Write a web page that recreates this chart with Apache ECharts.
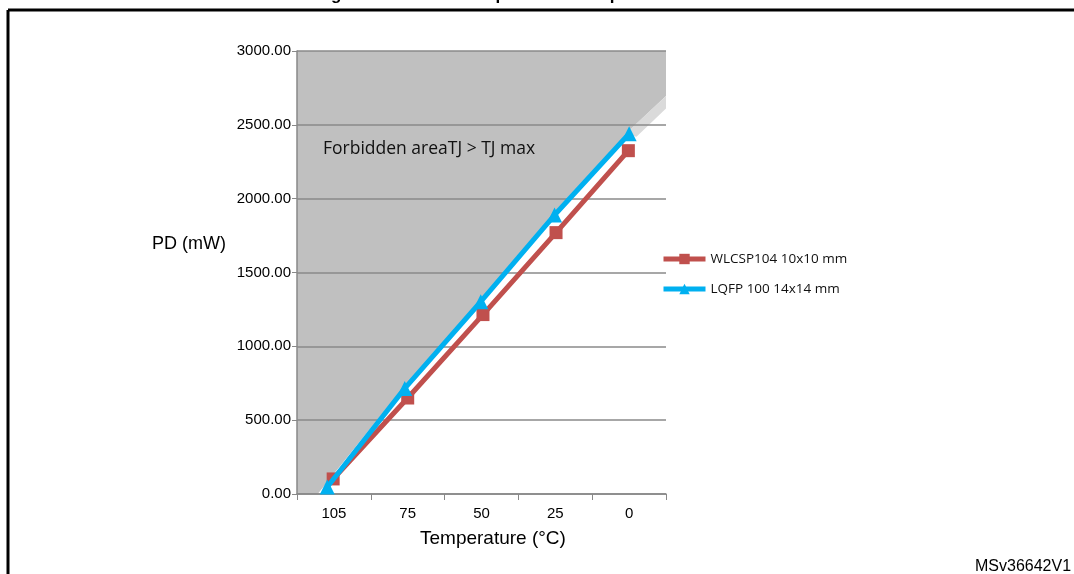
<!DOCTYPE html>
<html>
<head>
<meta charset="utf-8">
<script src="https://cdn.jsdelivr.net/npm/echarts@6/dist/echarts.min.js"></script>
<style>
  html, body { margin: 0; padding: 0; background: #fff; }
  #chart { width: 1074px; height: 574px; }
</style>
</head>
<body>
<div id="chart"></div>
<script>
var temps = ['105', '75', '50', '25', '0'];
// point positions in category slots (0..5), values in mW
var wlcspX = [0.49, 1.5, 2.52, 3.51, 4.49];
var wlcspValues = [102, 650, 1215, 1770, 2325];
var lqfpX = [0.41, 1.46, 2.49, 3.49, 4.5];
var lqfpValues = [47, 715, 1302, 1889, 2440];
// forbidden area outline (follows the LQFP curve), same units
var forbiddenArea = [[0, 3000], [5, 3000], [5, 2695], [4.5, 2460], [3.49, 1910], [2.49, 1322], [1.46, 735], [0.28, 0], [0, 0]];
var shadowBand = [[4.45, 2440], [5, 2695], [5, 2610], [4.6, 2420]];

var chart = echarts.init(document.getElementById('chart'));

function polygonItem(points, color) {
    return function (params, api) {
        var pts = points.map(function (p) { return api.coord(p); });
        return {
            type: 'polygon',
            shape: { points: pts },
            style: { fill: color }
        };
    };
}

function pairs(xs, ys) {
    return xs.map(function (x, i) { return [x, ys[i]]; });
}

var option = {
    animation: false,
    grid: { left: 297, right: 408, top: 51, bottom: 80 },
    legend: {
        orient: 'vertical',
        left: 656,
        top: 247,
        itemWidth: 42,
        itemHeight: 13,
        itemGap: 16,
        lineStyle: { width: 5 },
        textStyle: { fontFamily: 'Open Sans', fontSize: 13.5, color: '#111' },
        data: ['WLCSP104 10x10 mm', 'LQFP 100 14x14 mm']
    },
    xAxis: [{
        type: 'category',
        data: temps,
        boundaryGap: true,
        axisLine: { lineStyle: { color: '#888', width: 1.5 } },
        axisTick: { show: true, length: 6, lineStyle: { color: '#888' } },
        axisLabel: { fontFamily: 'Liberation Sans', fontSize: 15, color: '#000', margin: 12 },
        splitLine: { show: false }
    }, {
        type: 'value',
        min: 0,
        max: 5,
        show: false
    }],
    yAxis: {
        type: 'value',
        min: 0,
        max: 3000,
        interval: 500,
        axisLine: { show: true, lineStyle: { color: '#888', width: 1.5 } },
        axisTick: { show: true, length: 5, lineStyle: { color: '#888' } },
        axisLabel: {
            fontFamily: 'Liberation Sans', fontSize: 15, color: '#000', margin: 6,
            formatter: function (v) { return v.toFixed(2); }
        },
        splitLine: { show: true, lineStyle: { color: '#8a8a8a', width: 1.5 } }
    },
    series: [{
        type: 'custom',
        xAxisIndex: 1,
        z: -2,
        silent: true,
        data: [0],
        renderItem: polygonItem(forbiddenArea, '#c0c0c0')
    }, {
        type: 'custom',
        xAxisIndex: 1,
        z: -1,
        silent: true,
        data: [0],
        renderItem: polygonItem(shadowBand, '#dadada')
    }, {
        name: 'WLCSP104 10x10 mm',
        type: 'line',
        xAxisIndex: 1,
        data: pairs(wlcspX, wlcspValues),
        symbol: 'rect',
        symbolSize: 13,
        color: '#c0504d',
        lineStyle: { width: 5, color: '#c0504d' },
        itemStyle: { color: '#c0504d' },
        z: 3
    }, {
        name: 'LQFP 100 14x14 mm',
        type: 'line',
        xAxisIndex: 1,
        data: pairs(lqfpX, lqfpValues),
        symbol: 'triangle',
        symbolSize: 15,
        color: '#00b0f0',
        lineStyle: { width: 5, color: '#00b0f0' },
        itemStyle: { color: '#00b0f0' },
        z: 4
    }],
    graphic: [{
        type: 'line',
        shape: { x1: 8, y1: 10, x2: 1074, y2: 10 },
        style: { stroke: '#000', lineWidth: 3 }
    }, {
        type: 'line',
        shape: { x1: 8, y1: 10, x2: 8, y2: 574 },
        style: { stroke: '#000', lineWidth: 3 }
    }, {
        type: 'text',
        left: 316,
        top: -13,
        style: { text: 'Figure 30. Power dissipation vs. temperature', font: 'bold 17px "Liberation Sans"', fill: '#000' }
    }, {
        type: 'text',
        left: 152,
        top: 235,
        style: { text: 'PD (mW)', font: '18px "Liberation Sans"', fill: '#000' }
    }, {
        type: 'text',
        left: 420,
        top: 529,
        style: { text: 'Temperature (°C)', font: '19px "Liberation Sans"', fill: '#000' }
    }, {
        type: 'text',
        left: 323,
        top: 140,
        z: 10,
        style: { text: 'Forbidden areaTJ > TJ max', font: '17.5px "Open Sans"', fill: '#111' }
    }, {
        type: 'text',
        left: 975,
        top: 559,
        style: { text: 'MSv36642V1', font: '16px "Liberation Sans"', fill: '#000' }
    }]
};

chart.setOption(option);
</script>
</body>
</html>
